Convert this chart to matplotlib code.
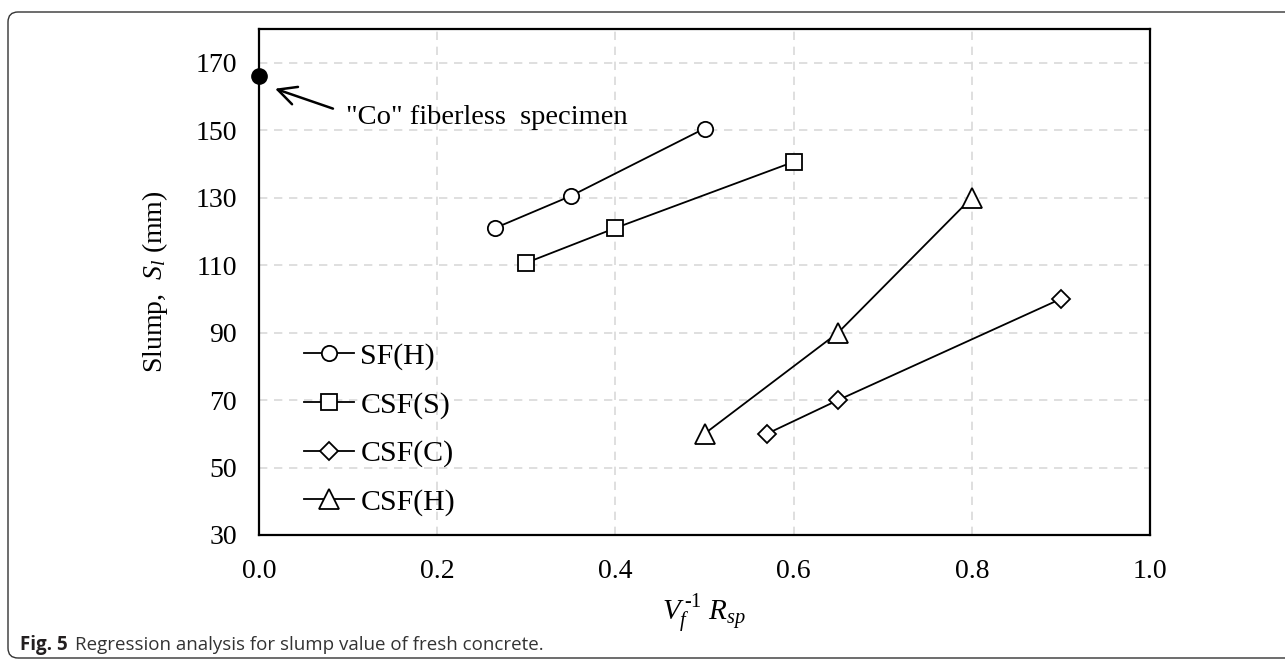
import matplotlib
matplotlib.use("Agg")
from matplotlib import pyplot as plt
from matplotlib.patches import FancyBboxPatch

# data
sfh_x = [0.265, 0.35, 0.5]
sfh_y = [121, 130.5, 150.5]
csfs_x = [0.3, 0.4, 0.6]
csfs_y = [110.7, 121, 140.6]
csfc_x = [0.57, 0.65, 0.9]
csfc_y = [60, 70, 100]
csfh_x = [0.5, 0.65, 0.8]
csfh_y = [60, 90, 130]
co_x = [0.0]
co_y = [166]

x_ticks = [0.0, 0.2, 0.4, 0.6, 0.8, 1.0]
y_ticks = [30, 50, 70, 90, 110, 130, 150, 170]

plt.rcParams['font.family'] = ['Liberation Serif', 'DejaVu Serif']
plt.rcParams['mathtext.fontset'] = 'custom'
plt.rcParams['mathtext.rm'] = 'Liberation Serif'
plt.rcParams['mathtext.it'] = 'Liberation Serif:italic'

fig = plt.figure(figsize=(12.85, 6.62), dpi=100)
ax = fig.add_axes([259 / 1285, 1 - 535 / 662, 891 / 1285, 506 / 662])

# outer rounded frame of the figure panel
frame = FancyBboxPatch((8, 4), 1320, 646, boxstyle="round,pad=0,rounding_size=10",
                       transform=None, fill=False, ec='#333333', lw=1.0)
fig.patches.append(frame)

style = dict(color='black', lw=1.3, mfc='white', mec='black', mew=1.3)
ax.plot(sfh_x, sfh_y, marker='o', ms=11, label='SF(H)', **style)
ax.plot(csfs_x, csfs_y, marker='s', ms=11, label='CSF(S)', **style)
ax.plot(csfc_x, csfc_y, marker='D', ms=9.5, label='CSF(C)', **style)
ax.plot(csfh_x, csfh_y, marker='^', ms=14, label='CSF(H)', **style)
ax.plot(co_x, co_y, marker='o', ms=11, color='black', ls='none', clip_on=False, zorder=5)

# annotation for the fiberless specimen
ax.annotate('', xy=(0.018, 162.3), xytext=(0.083, 156.4),
            arrowprops=dict(arrowstyle='->,head_length=0.6,head_width=0.3', color='black',
                            lw=1.8, mutation_scale=22, shrinkA=0, shrinkB=0))
ax.text(0.098, 153.7, '"Co" fiberless  specimen', fontsize=20.5, va='center', ha='left')

ax.set_xlim(0, 1.0)
ax.set_ylim(30, 180)
ax.set_xticks(x_ticks)
ax.set_xticklabels([f'{v:.1f}' for v in x_ticks])
ax.set_yticks(y_ticks)
ax.tick_params(length=0, labelsize=20)
ax.tick_params(axis='x', pad=17)
ax.tick_params(axis='y', pad=16)
ax.grid(True, ls=(0, (5, 4)), lw=1.2, color='#d9d9d9')
for s in ax.spines.values():
    s.set_linewidth(1.6)

ax.set_xlabel(r'$V_f^{\,\text{-}1}\ R_{sp}$', fontsize=21, labelpad=6)
ax.set_ylabel(r'Slump,  $S_l$ (mm)', fontsize=20, labelpad=18)

ax.legend(loc='upper left', bbox_to_anchor=(0.05, 0.38), frameon=False, fontsize=21.5,
          handlelength=1.7, handletextpad=0.2, labelspacing=0.72,
          borderpad=0, borderaxespad=0)

fig.text(20 / 1285, 1 - 645 / 662, 'Fig. 5', fontsize=13.5, fontweight='bold',
         family='Open Sans', color='#231f20', va='center')
fig.text(75 / 1285, 1 - 645 / 662, 'Regression analysis for slump value of fresh concrete.',
         fontsize=13.5, family='Open Sans', color='#333333', va='center')

fig.savefig('out.png', dpi=100)
